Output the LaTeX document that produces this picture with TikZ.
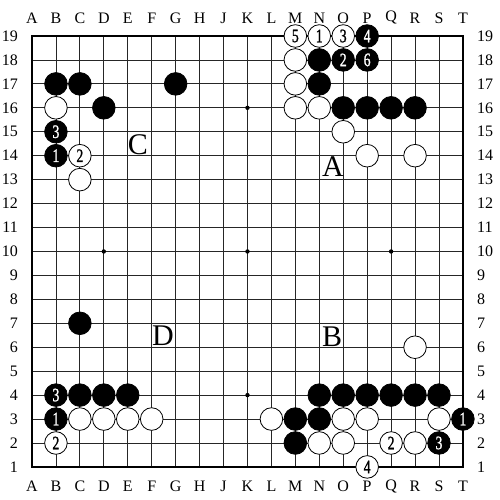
\documentclass[tikz,border=0pt]{standalone}
\usepackage{fontspec}
\setmainfont{Liberation Serif}
\newfontfamily\stonefont[FakeStretch=0.72,FakeBold=1.2]{Liberation Serif}
\tikzset{
  gridline/.style={line width=0.8pt, black!85},
  borderline/.style={line width=1.8pt},
  wstone/.style={circle, draw=black, fill=white, line width=0.8pt, minimum size=22.6pt, inner sep=0pt,
    font=\fontsize{19}{19}\selectfont\stonefont},
  bstone/.style={circle, draw=black, fill=black, line width=0.8pt, minimum size=22.6pt, inner sep=0pt,
    text=white, font=\fontsize{19}{19}\selectfont\stonefont},
  hoshi/.style={circle, fill=black, minimum size=4.4pt, inner sep=0pt},
  coordlabel/.style={font=\fontsize{16}{16}\selectfont, inner sep=0pt},
  arealabel/.style={font=\fontsize{30}{30}\selectfont, inner sep=0pt}
}
\begin{document}
\begin{tikzpicture}[x=1pt,y=-1pt]
\useasboundingbox (0,0) rectangle (500,500);
\fill[white] (0,0) rectangle (500,500);
% board coordinates
\foreach \c [count=\i from 0] in {A,B,C,D,E,F,G,H,J,K,L,M,N,O,P,Q,R,S,T}{
  \foreach \r in {1,...,19}{
    \coordinate (\c\r) at ({32+23.94*\i},{36+23.94*(19-\r)});
  }
}
% grid
\foreach \c in {B,C,D,E,F,G,H,J,K,L,M,N,O,P,Q,R,S}{
  \draw[gridline] (\c19) -- (\c1);
}
\foreach \r in {2,...,18}{
  \draw[gridline] (A\r) -- (T\r);
}
\draw[borderline] (A19) rectangle (T1);
% star points
\foreach \p in {D4,K4,Q4,D10,K10,Q10,D16,K16,Q16}{
  \node[hoshi] (h\p) at (\p) {};
}
% coordinate labels
\foreach \c in {A,B,C,D,E,F,G,H,J,K,L,M,N,O,P,Q,R,S,T}{
  \node[coordlabel] (top\c) at ([yshift=18pt]\c19) {\c};
  \node[coordlabel] (bot\c) at ([yshift=-19.5pt]\c1) {\c};
}
\foreach \r in {1,...,19}{
  \node[coordlabel, anchor=east] (left\r) at ([xshift=-14pt]A\r) {\r};
  \node[coordlabel, anchor=west] (right\r) at ([xshift=14pt]T\r) {\r};
}
% area labels
\node[arealabel] (lblA) at (333,167) {A};
\node[arealabel] (lblB) at (332,337) {B};
\node[arealabel] (lblC) at (138,145) {C};
\node[arealabel] (lblD) at (163,336) {D};
% black stones
\foreach \p in {B17,C17,G17,D16,N18,N17,O16,P16,Q16,R16,C7,C4,D4,E4,N4,O4,P4,Q4,R4,S4,M3,N3,M2}{
  \node[bstone] (b\p) at (\p) {};
}
\node[bstone] (bB15) at (B15) {3};
\node[bstone] (bB14) at (B14) {1};
\node[bstone] (bO18) at (O18) {2};
\node[bstone] (bP18) at (P18) {6};
\node[bstone] (bP19) at (P19) {4};
\node[bstone] (bB4) at (B4) {3};
\node[bstone] (bB3) at (B3) {1};
\node[bstone] (bT3) at (T3) {1};
\node[bstone] (bS2) at (S2) {3};
% white stones
\foreach \p in {B16,C13,M18,M17,M16,N16,O15,P14,R14,R6,C3,D3,E3,F3,L3,O3,P3,S3,N2,O2,R2}{
  \node[wstone] (w\p) at (\p) {};
}
\node[wstone] (wC14) at (C14) {2};
\node[wstone] (wM19) at (M19) {5};
\node[wstone] (wN19) at (N19) {1};
\node[wstone] (wO19) at (O19) {3};
\node[wstone] (wB2) at (B2) {2};
\node[wstone] (wQ2) at (Q2) {2};
\node[wstone] (wP1) at (P1) {4};
\end{tikzpicture}
\end{document}
